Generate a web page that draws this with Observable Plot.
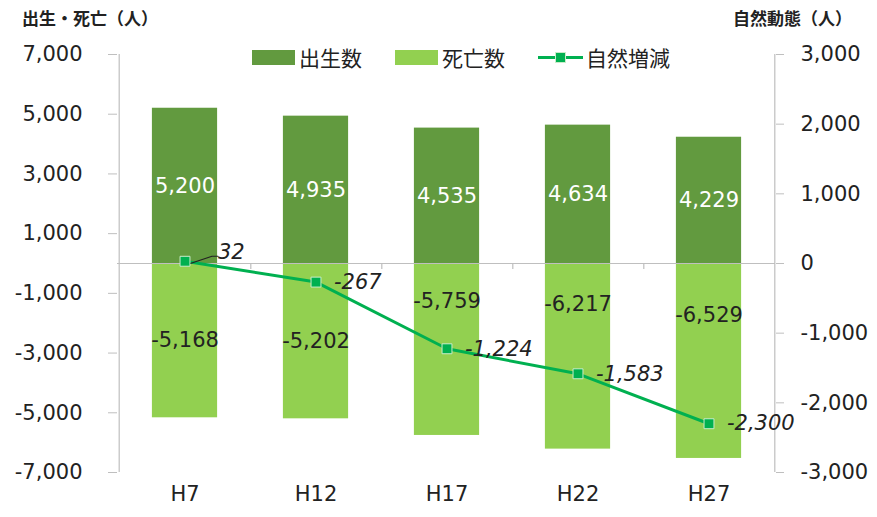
<!DOCTYPE html>
<html>
<head>
<meta charset="utf-8">
<script src="https://cdn.jsdelivr.net/npm/d3@7"></script>
<script src="https://cdn.jsdelivr.net/npm/@observablehq/plot@0.6"></script>
<style>
  html, body { margin: 0; padding: 0; background: #fff; }
  #wrap { position: relative; width: 877px; height: 517px; font-family: "DejaVu Sans", "Noto Sans CJK JP", sans-serif; color: #222; }
  .ttl { position: absolute; top: 8px; font-size: 17px; font-weight: bold; font-family: "Noto Sans CJK JP", sans-serif; white-space: nowrap; line-height: 20px; }
  #legend { position: absolute; top: 44px; left: 252px; display: flex; align-items: center; font-family: "Noto Sans CJK JP", sans-serif; font-size: 21px; line-height: 26px; }
  .sw { display: inline-block; width: 43px; height: 15px; margin-right: 4px; }
  .item { display: flex; align-items: center; margin-right: 33px; }
  .ln { position: relative; display: inline-block; width: 45px; height: 15px; margin-right: 3px; }
  .ln::before { content: ""; position: absolute; left: 0; right: 0; top: 6px; height: 3px; background: #00b050; }
  .ln::after { content: ""; position: absolute; left: 17px; top: 2px; width: 9px; height: 9px; background: #00b050; border: 1px solid #c8ecc8; }
  svg { position: absolute; left: 0; top: 0; }
</style>
</head>
<body>
<div id="wrap">
  <div class="ttl" style="left:22px">出生・死亡（人）</div>
  <div class="ttl" style="left:733px">自然動態（人）</div>
  <div id="legend">
    <div class="item"><span class="sw" style="background:#629a3f"></span>出生数</div>
    <div class="item"><span class="sw" style="background:#92d050"></span>死亡数</div>
    <div class="item"><span class="ln"></span>自然増減</div>
  </div>
</div>
<script>
const categories = ["H7", "H12", "H17", "H22", "H27"];
const births = [5200, 4935, 4535, 4634, 4229];
const deaths = [-5168, -5202, -5759, -6217, -6529];
const natural = [32, -267, -1224, -1583, -2300];
const leftTicks = [7000, 5000, 3000, 1000, -1000, -3000, -5000, -7000];
const rightTicks = [3000, 2000, 1000, 0, -1000, -2000, -3000];

const k = 7000 / 3000;
const fmt = d => d.toLocaleString("en-US");
const W = 877, H = 517, mL = 117, mR = 102, mT = 54, mB = 45;
const bw = (W - mL - mR) / categories.length;

const birthData = categories.map((c, i) => ({cat: c, v: births[i]}));
const deathData = categories.map((c, i) => ({cat: c, v: deaths[i]}));
const natData = categories.map((c, i) => ({cat: c, v: natural[i]}));

// label placement offsets (px) for death labels, as in the reference
const deathLabelShift = {H7: 0, H12: 0, H17: -48, H22: -52, H27: -46};

const leader = {draw(ctx) { ctx.moveTo(0, 0); ctx.lineTo(21, -7); ctx.lineTo(27, -7); }};

const chart = Plot.plot({
  width: W, height: H,
  marginLeft: mL, marginRight: mR, marginTop: mT, marginBottom: mB,
  style: {fontSize: "21px", fontFamily: "'DejaVu Sans', 'Noto Sans CJK JP', sans-serif", color: "#222", background: "transparent"},
  x: {type: "band", domain: categories, paddingInner: 0, paddingOuter: 0},
  y: {domain: [-7000, 7000]},
  marks: [
    Plot.barY(birthData, {x: "cat", y: "v", fill: "#629a3f", insetLeft: bw / 4, insetRight: bw / 4}),
    Plot.barY(deathData, {x: "cat", y: "v", fill: "#92d050", insetLeft: bw / 4, insetRight: bw / 4}),
    Plot.ruleY([0], {stroke: "#bfbfbf", strokeWidth: 1.2}),
    Plot.ruleX(categories.slice(0, 4), {x: d => d, y1: 0, y2: 0, dx: bw / 2, insetBottom: -6, stroke: "#bfbfbf", strokeWidth: 1.2}),
    Plot.ruleX([categories[0]], {x: d => d, y1: -7000, y2: 7000, dx: -bw / 2, stroke: "#bfbfbf", strokeWidth: 1.2}),
    Plot.ruleX([categories[4]], {x: d => d, y1: -7000, y2: 7000, dx: bw / 2, stroke: "#bfbfbf", strokeWidth: 1.2}),
    Plot.axisY(leftTicks, {anchor: "left", tickFormat: fmt, tickSize: 9, tickPadding: 26, stroke: "#bfbfbf", label: null}),
    Plot.axisY(rightTicks.map(v => v * k), {anchor: "right", tickFormat: d => fmt(Math.round(d / k)), tickSize: 8, tickPadding: 17, stroke: "#bfbfbf", label: null}),
    Plot.axisX({anchor: "bottom", tickSize: 0, tickPadding: 14, label: null}),
    Plot.text(birthData, {x: "cat", y: d => d.v / 2, text: d => fmt(d.v), fill: "white"}),
    ...deathData.map(d => Plot.text([d], {x: "cat", y: e => e.v / 2, text: e => fmt(e.v), fill: "#222", dy: deathLabelShift[d.cat]})),
    Plot.line(natData, {x: "cat", y: d => d.v * k, stroke: "#00b050", strokeWidth: 3}),
    Plot.dot(natData, {x: "cat", y: d => d.v * k, symbol: "square", r: 5.6, fill: "#00b050", stroke: "#c8ecc8", strokeWidth: 1}),
    Plot.vector(natData.slice(0, 1), {x: "cat", y: d => d.v * k, dx: 6, dy: -4, shape: leader, stroke: "#222", strokeWidth: 1.2}),
    Plot.text(natData.slice(0, 1), {x: "cat", y: d => d.v * k, text: d => fmt(d.v), textAnchor: "start", dx: 33, dy: -9, fontStyle: "italic", fill: "#222"}),
    Plot.text(natData.slice(1), {x: "cat", y: d => d.v * k, text: d => fmt(d.v), textAnchor: "start", dx: 18, fontStyle: "italic", fill: "#222"})
  ]
});
document.getElementById("wrap").prepend(chart);
</script>
</body>
</html>
